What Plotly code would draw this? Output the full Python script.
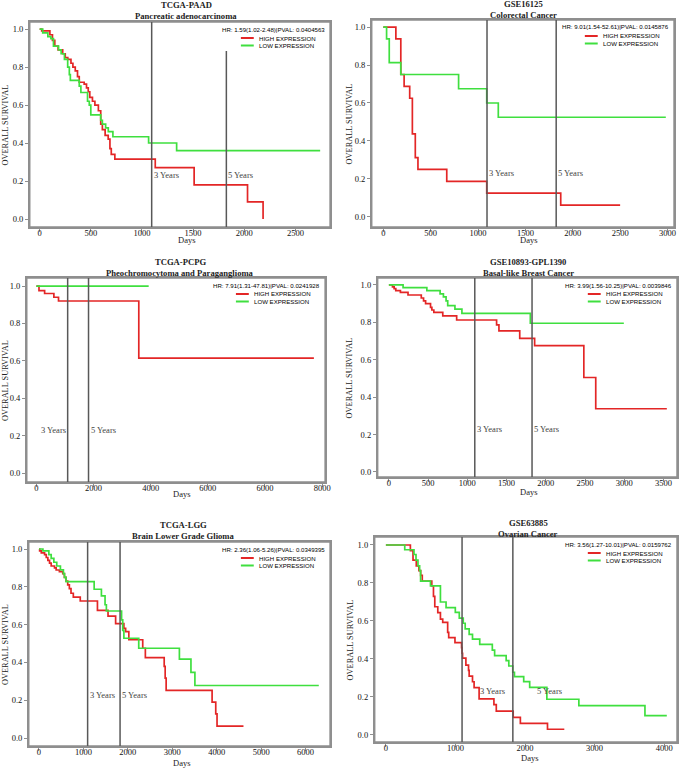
import plotly.graph_objects as go

W, H = 685, 769

# ---------------- data (days, overall survival) ----------------
paad_high_days = [0, 20, 100, 125, 148, 180, 225, 250, 275, 306, 325, 348, 370, 387, 435, 458, 475, 490, 516, 540, 574, 597, 613, 640, 670, 687, 700, 735, 1130, 1510, 2032, 2184]
paad_high_surv = [1.0, 0.99, 0.97, 0.94, 0.91, 0.89, 0.87, 0.85, 0.84, 0.82, 0.80, 0.78, 0.75, 0.72, 0.71, 0.69, 0.67, 0.64, 0.62, 0.60, 0.57, 0.50, 0.47, 0.44, 0.42, 0.37, 0.34, 0.315, 0.27, 0.18, 0.09, 0.0]
paad_low_days = [0, 30, 80, 110, 135, 185, 210, 242, 274, 290, 300, 387, 403, 468, 485, 500, 597, 613, 645, 671, 716, 1065, 1339, 2742]
paad_low_surv = [1.0, 0.98, 0.96, 0.95, 0.91, 0.89, 0.87, 0.84, 0.80, 0.76, 0.73, 0.70, 0.666, 0.62, 0.60, 0.548, 0.52, 0.50, 0.48, 0.46, 0.433, 0.40, 0.36, 0.36]

gse16125_high_days = [0, 133, 185, 220, 279, 307, 338, 366, 670, 1092, 1873, 2500]
gse16125_high_surv = [1.0, 0.9375, 0.75, 0.6875, 0.625, 0.4375, 0.3125, 0.25, 0.1875, 0.125, 0.0625, 0.0625]
gse16125_low_days = [0, 35, 63, 185, 795, 1092, 1214, 2982]
gse16125_low_surv = [1.0, 0.9375, 0.8125, 0.75, 0.675, 0.60, 0.525, 0.525]

pcpg_high_days = [0, 92, 289, 613, 775, 3584, 9711]
pcpg_high_surv = [1.0, 0.975, 0.96, 0.94, 0.92, 0.615, 0.615]
pcpg_low_days = [0, 3930]
pcpg_low_surv = [1.0, 1.0]

gse10893_high_days = [0, 46, 67, 88, 147, 244, 413, 442, 468, 531, 548, 573, 687, 864, 1373, 1403, 1668, 1858, 2485, 2637, 3543]
gse10893_high_surv = [1.0, 0.99, 0.98, 0.97, 0.96, 0.946, 0.93, 0.915, 0.90, 0.88, 0.866, 0.853, 0.834, 0.8125, 0.786, 0.754, 0.714, 0.675, 0.505, 0.338, 0.338]
gse10893_low_days = [0, 181, 484, 653, 695, 729, 750, 842, 931, 1803, 2995]
gse10893_low_surv = [1.0, 0.986, 0.97, 0.952, 0.936, 0.915, 0.889, 0.871, 0.848, 0.795, 0.795]

lgg_high_days = [0, 15, 52, 126, 164, 200, 238, 275, 350, 387, 460, 535, 572, 610, 647, 684, 721, 773, 929, 1316, 1554, 1725, 1911, 1950, 2022, 2335, 2394, 2818, 2840, 2862, 3896, 3978, 4007, 4602]
lgg_high_surv = [1.0, 0.99, 0.98, 0.97, 0.955, 0.94, 0.925, 0.91, 0.90, 0.889, 0.88, 0.87, 0.85, 0.83, 0.81, 0.79, 0.766, 0.745, 0.725, 0.675, 0.645, 0.605, 0.58, 0.563, 0.52, 0.475, 0.425, 0.379, 0.317, 0.252, 0.19, 0.128, 0.063, 0.063]
lgg_low_days = [0, 89, 223, 275, 335, 400, 483, 550, 575, 610, 1242, 1405, 1487, 1517, 1859, 1885, 1911, 2245, 3160, 3420, 3509, 6297]
lgg_low_surv = [1.0, 0.99, 0.97, 0.95, 0.93, 0.91, 0.89, 0.87, 0.85, 0.827, 0.787, 0.752, 0.705, 0.672, 0.625, 0.57, 0.528, 0.475, 0.417, 0.347, 0.278, 0.278]

gse63885_high_days = [0, 352, 390, 437, 475, 500, 523, 660, 684, 703, 746, 784, 817, 888, 903, 993, 1088, 1095, 1102, 1150, 1188, 1197, 1245, 1268, 1340, 1553, 1587, 1830, 1933, 2323, 2565]
gse63885_high_surv = [1.0, 0.97, 0.92, 0.89, 0.865, 0.84, 0.81, 0.784, 0.73, 0.675, 0.644, 0.61, 0.593, 0.54, 0.512, 0.486, 0.46, 0.43, 0.404, 0.368, 0.34, 0.31, 0.28, 0.249, 0.19, 0.16, 0.126, 0.093, 0.061, 0.03, 0.03]
gse63885_low_days = [0, 271, 404, 433, 461, 485, 499, 641, 784, 865, 998, 1055, 1112, 1140, 1197, 1245, 1349, 1530, 1563, 1729, 1767, 1824, 1848, 1981, 2067, 2314, 2774, 3724, 4038]
gse63885_low_surv = [1.0, 0.975, 0.95, 0.92, 0.89, 0.865, 0.81, 0.785, 0.70, 0.67, 0.645, 0.615, 0.588, 0.558, 0.53, 0.505, 0.477, 0.447, 0.418, 0.391, 0.363, 0.33, 0.307, 0.281, 0.251, 0.188, 0.154, 0.102, 0.102]

titles_top = ["TCGA-PAAD", "GSE16125", "TCGA-PCPG", "GSE10893-GPL1390", "TCGA-LGG", "GSE63885"]
titles_sub = ["Pancreatic adenocarcinoma", "Colorectal Cancer", "Pheochromocytoma and Paraganglioma",
              "Basal-like Breast Cancer", "Brain Lower Grade Glioma", "Ovarian Cancer"]
hr_texts = ["HR: 1.59(1.02-2.48)|PVAL: 0.0404563", "HR: 9.01(1.54-52.61)|PVAL: 0.0145876",
            "HR: 7.91(1.31-47.81)|PVAL: 0.0241928", "HR: 3.99(1.56-10.25)|PVAL: 0.0039846",
            "HR: 2.36(1.06-5.26)|PVAL: 0.0349395", "HR: 3.56(1.27-10.01)|PVAL: 0.0159762"]
series_names = ["HIGH EXPRESSION", "LOW EXPRESSION"]
year_days = [1095, 1825]
year_labels = ["3 Years", "5 Years"]
y_ticks = [0.0, 0.2, 0.4, 0.6, 0.8, 1.0]
pcpg_tick_vals = [0, 2000, 4000, 6000, 8000, 10000]
pcpg_tick_text = ["0", "2000", "4000", "6000", "6000", "8000"]

# ---------------- styling / layout ----------------
RED = "#e32626"
GREEN = "#3fdf3f"
VLINE = "#585858"
FRAME = "#8f8f8f"
SERIF = "Liberation Serif, Times New Roman, serif"
SANS = "Liberation Sans, Arial, sans-serif"

high_series = [(paad_high_days, paad_high_surv), (gse16125_high_days, gse16125_high_surv),
               (pcpg_high_days, pcpg_high_surv), (gse10893_high_days, gse10893_high_surv),
               (lgg_high_days, lgg_high_surv), (gse63885_high_days, gse63885_high_surv)]
low_series = [(paad_low_days, paad_low_surv), (gse16125_low_days, gse16125_low_surv),
              (pcpg_low_days, pcpg_low_surv), (gse10893_low_days, gse10893_low_surv),
              (lgg_low_days, lgg_low_surv), (gse63885_low_days, gse63885_low_surv)]

# frame in pixels: left, right, top, bottom
frames = [(30, 333, 22, 227), (375, 680, 20, 227), (27, 328, 278, 482),
          (381, 683, 278, 477), (29, 333, 542, 746), (378, 683, 537, 742)]
x_ranges = [(-97, 2839), (-122, 3069), (-336, 10104), (-143, 3673), (-230, 6551), (-161, 4185)]
y_ranges = [(-0.042, 1.037), (-0.053, 1.037), (-0.048, 1.043), (-0.027, 1.037), (-0.042, 1.037), (-0.037, 1.042)]
x_dticks = [500, 500, None, 500, 1000, 1000]
title_pos = [(188, 5, 15.5), (528, 4.5, 15), (182, 262, 273), (533, 262, 273), (185, 525, 535.5), (533, 523, 533.5)]
ytitle_x = [6, 353, 5, 353, 5, 354]
days_pos = [(188, 240), (533, 240), (183, 494), (533, 492), (183, 763), (534, 758)]
# label positions for the 3y/5y text (x in days, anchor)
year_label_x = [[(1095, "left"), (1825, "left")], [(1095, "left"), (1825, "left")],
                [(1095, "right"), (1825, "left")], [(1095, "left"), (1825, "left")],
                [(1095, "left"), (1825, "left")], [(1330, "left"), (2147, "left")]]
# vertical line tops (fraction of axis domain)
year_line_top = [[1.0, 0.858], [1.0, 1.0], [1.0, 1.0], [1.0, 1.0], [1.0, 1.0], [1.0, 1.0]]


def px(x):
    return x / W


def py(y):
    return 1 - y / H


fig = go.Figure()
annotations = []
shapes = []

for i in range(6):
    n = "" if i == 0 else str(i + 1)
    xa, ya = "x" + n, "y" + n
    l, r, t, b = frames[i]

    # step curves
    for (d, s), col, name in [(high_series[i], RED, series_names[0]), (low_series[i], GREEN, series_names[1])]:
        fig.add_trace(go.Scatter(x=d, y=s, mode="lines", line=dict(color=col, width=1.7, shape="hv"),
                                 name=name, showlegend=False, xaxis=xa, yaxis=ya, hoverinfo="skip"))

    xaxis = dict(domain=[px(l), px(r)], range=list(x_ranges[i]), anchor=ya,
                 showline=True, mirror=True, linecolor=FRAME, linewidth=1.5,
                 showgrid=False, zeroline=False, ticks="outside", ticklen=3, tickcolor=FRAME,
                 ticklabelstandoff=-6,
                 tickfont=dict(family=SERIF, size=8.5, color="#111"))
    if x_dticks[i] is None:
        xaxis.update(tickmode="array", tickvals=pcpg_tick_vals, ticktext=pcpg_tick_text)
    else:
        xaxis.update(tick0=0, dtick=x_dticks[i])
    yaxis = dict(domain=[py(b), py(t)], range=list(y_ranges[i]), anchor=xa,
                 showline=True, mirror=True, linecolor=FRAME, linewidth=1.5,
                 showgrid=False, zeroline=False, ticks="outside", ticklen=3, tickcolor=FRAME,
                 tickmode="array", tickvals=y_ticks, tickformat=".1f",
                 tickfont=dict(family=SERIF, size=8.5, color="#111"))
    fig.layout["xaxis" + n] = xaxis
    fig.layout["yaxis" + n] = yaxis

    # panel frame
    shapes.append(dict(type="rect", xref=xa + " domain", yref=ya + " domain", x0=0, x1=1, y0=0, y1=1,
                       line=dict(color=FRAME, width=1.5), fillcolor="rgba(0,0,0,0)", layer="above"))

    # 3 / 5 year lines and labels
    for k in range(2):
        shapes.append(dict(type="line", xref=xa, yref=ya + " domain", x0=year_days[k], x1=year_days[k],
                           y0=0, y1=year_line_top[i][k], line=dict(color=VLINE, width=1.5)))
        lx, anc = year_label_x[i][k]
        annotations.append(dict(xref=xa, yref=ya, x=lx, y=0.23, text=year_labels[k], showarrow=False,
                                xanchor=anc, yanchor="middle", font=dict(family=SERIF, size=8.5, color="#444")))

    # titles
    cx, ty1, ty2 = title_pos[i]
    annotations.append(dict(xref="paper", yref="paper", x=px(cx), y=py(ty1), text="<b>%s</b>" % titles_top[i],
                            showarrow=False, xanchor="center", yanchor="middle",
                            font=dict(family=SERIF, size=8.6, color="#222")))
    annotations.append(dict(xref="paper", yref="paper", x=px(cx), y=py(ty2), text="<b>%s</b>" % titles_sub[i],
                            showarrow=False, xanchor="center", yanchor="middle",
                            font=dict(family=SERIF, size=8.6, color="#222")))
    # axis titles
    annotations.append(dict(xref="paper", yref="paper", x=px(ytitle_x[i]), y=py((t + b) / 2),
                            text="OVERALL SURVIVAL", textangle=-90, showarrow=False,
                            xanchor="center", yanchor="middle", font=dict(family=SERIF, size=8.3, color="#222")))
    dx, dy = days_pos[i]
    annotations.append(dict(xref="paper", yref="paper", x=px(dx), y=py(dy), text="Days", showarrow=False,
                            xanchor="center", yanchor="middle", font=dict(family=SERIF, size=8.5, color="#222")))

    # HR text and legend
    annotations.append(dict(xref="paper", yref="paper", x=px(r - 3), y=py(t + 7), text=hr_texts[i],
                            showarrow=False, xanchor="right", yanchor="middle",
                            font=dict(family=SANS, size=6.1, color="#000")))
    for k, col in enumerate([RED, GREEN]):
        yy = t + 16 + 7.5 * k
        shapes.append(dict(type="line", xref="paper", yref="paper", x0=px(r - 90), x1=px(r - 77),
                           y0=py(yy), y1=py(yy), line=dict(color=col, width=2)))
        annotations.append(dict(xref="paper", yref="paper", x=px(r - 74), y=py(yy), text=series_names[k],
                                showarrow=False, xanchor="left", yanchor="middle",
                                font=dict(family=SANS, size=6.1, color="#000")))

fig.update_layout(width=W, height=H, margin=dict(l=0, r=0, t=0, b=0),
                  paper_bgcolor="white", plot_bgcolor="white", showlegend=False,
                  annotations=annotations, shapes=shapes)

fig.write_html("out.html", config={"displayModeBar": False},
               post_script="document.body.style.margin='0';document.body.style.padding='0';"
                           "document.documentElement.style.overflow='hidden';")
